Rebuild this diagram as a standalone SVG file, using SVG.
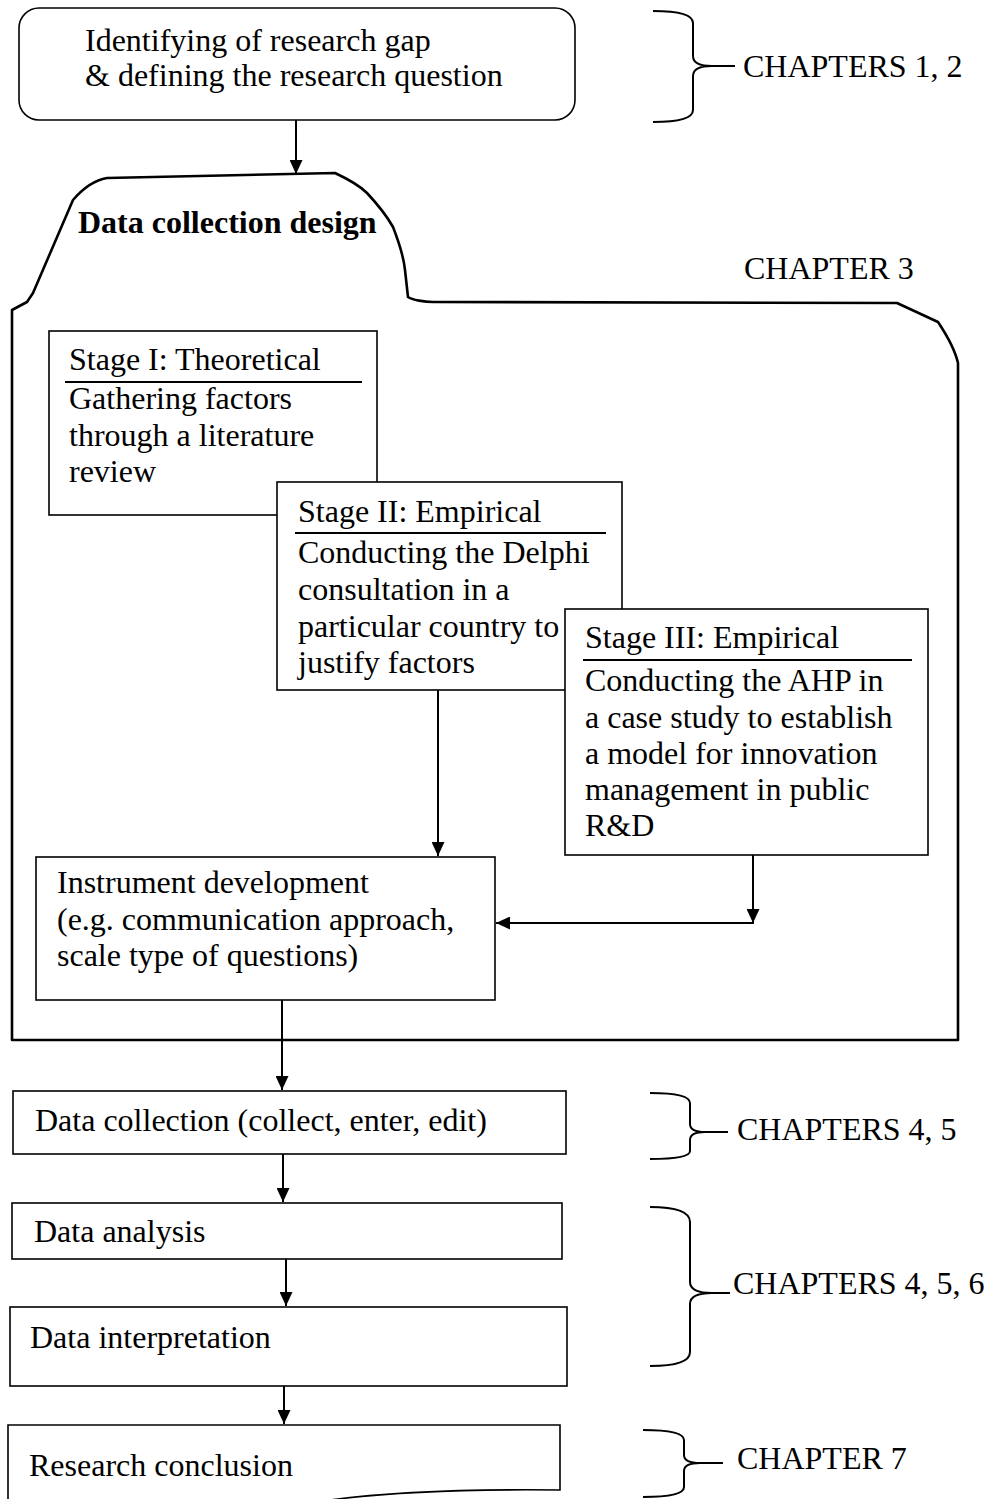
<svg xmlns="http://www.w3.org/2000/svg" width="990" height="1499" viewBox="0 0 990 1499">
  <style>
    .t { font-family: "Liberation Serif", "Times New Roman", serif; font-size: 32px; fill: #000; }
    .b { font-weight: bold; }
    .box { fill: #fff; stroke: #000; stroke-width: 1.6; }
    .frame { fill: none; stroke: #000; stroke-width: 2.6; stroke-linejoin: round; }
    .rule { stroke: #000; stroke-width: 2; }
    .brace { fill: none; stroke: #000; stroke-width: 2; }
    .conn { fill: none; stroke: #000; stroke-width: 2; }
  </style>
  <defs>
    <marker id="arrow" markerUnits="userSpaceOnUse" markerWidth="14" markerHeight="13" refX="14" refY="6.5" orient="auto">
      <path d="M0,0 L14,6.5 L0,13 Z" fill="#000"/>
    </marker>
  </defs>
  <rect width="990" height="1499" fill="#fff"/>

  <!-- research gap -->
  <g id="node-research-gap">
    <rect class="box" x="19" y="8" width="556" height="112" rx="20" ry="20"/>
    <text class="t" x="85" y="51">Identifying of research gap</text>
    <text class="t" x="85" y="86">&amp; defining the research question</text>
  </g>

  <!-- data collection design frame -->
  <g id="node-design-frame">
    <path class="frame" d="M12,1040 V310 L27,302 L33,293 L73,200 C85,186 95,180 107,178 L335,173 C350,180 360,186 367,193 C380,207 388,218 393,227 C400,245 404,260 405,270 L408,297 C412,300 425,302 433,302 L897,303 L938,322 C948,337 955,350 958,363 V1040 Z"/>
    <text class="t b" x="78" y="233">Data collection design</text>
  </g>

  <g id="node-stage1">
    <rect class="box" x="49" y="331" width="328" height="184"/>
    <text class="t" x="69" y="370">Stage I: Theoretical</text>
    <line class="rule" x1="65" y1="382" x2="362" y2="382"/>
    <text class="t" x="69" y="409">Gathering factors</text>
    <text class="t" x="69" y="446">through a literature</text>
    <text class="t" x="69" y="482">review</text>
  </g>

  <g id="node-stage2">
    <rect class="box" x="277" y="482" width="345" height="208"/>
    <text class="t" x="298" y="522">Stage II: Empirical</text>
    <line class="rule" x1="295" y1="533" x2="606" y2="533"/>
    <text class="t" x="298" y="563">Conducting the Delphi</text>
    <text class="t" x="298" y="600">consultation in a</text>
    <text class="t" x="298" y="637">particular country to</text>
    <text class="t" x="298" y="673">justify factors</text>
  </g>

  <g id="node-stage3">
    <rect class="box" x="565" y="609" width="363" height="246"/>
    <text class="t" x="585" y="648">Stage III: Empirical</text>
    <line class="rule" x1="583" y1="660" x2="912" y2="660"/>
    <text class="t" x="585" y="691">Conducting the AHP in</text>
    <text class="t" x="585" y="728">a case study to establish</text>
    <text class="t" x="585" y="764">a model for innovation</text>
    <text class="t" x="585" y="800">management in public</text>
    <text class="t" x="585" y="836">R&amp;D</text>
  </g>

  <g id="node-instrument">
    <rect class="box" x="36" y="857" width="459" height="143"/>
    <text class="t" x="57" y="893">Instrument development</text>
    <text class="t" x="57" y="930">(e.g. communication approach,</text>
    <text class="t" x="57" y="966">scale type of questions)</text>
  </g>

  <g id="node-data-collection">
    <rect class="box" x="13" y="1091" width="553" height="63"/>
    <text class="t" x="35" y="1131">Data collection (collect, enter, edit)</text>
  </g>

  <g id="node-data-analysis">
    <rect class="box" x="12" y="1203" width="550" height="56"/>
    <text class="t" x="34" y="1242">Data analysis</text>
  </g>

  <g id="node-data-interpretation">
    <rect class="box" x="10" y="1307" width="557" height="79"/>
    <text class="t" x="30" y="1348">Data interpretation</text>
  </g>

  <g id="node-conclusion">
    <path class="box" d="M8,1510 V1425 H560 V1490 C470,1489 390,1492 330,1500 L320,1510 Z"/>
    <text class="t" x="29" y="1476">Research conclusion</text>
  </g>

  <!-- chapter braces -->
  <g id="node-chapters-1-2">
    <path class="brace" d="M653,11 Q693,11 693,23 V56 Q693,66 712,66 Q693,66 693,76 V110 Q693,122 653,122 M712,66 H735"/>
    <text class="t" x="743" y="77">CHAPTERS 1, 2</text>
  </g>
  <g id="node-chapter-3">
    <text class="t" x="744" y="279">CHAPTER 3</text>
  </g>
  <g id="node-chapters-4-5">
    <path class="brace" d="M650,1093 Q690,1093 690,1103 V1124 Q690,1132 705,1132 Q690,1132 690,1140 V1151 Q690,1159 650,1159 M705,1132 H728"/>
    <text class="t" x="737" y="1140">CHAPTERS 4, 5</text>
  </g>
  <g id="node-chapters-4-5-6">
    <path class="brace" d="M650,1207 Q690,1207 690,1222 V1282 Q690,1293 712,1293 Q690,1293 690,1304 V1352 Q690,1366 650,1366 M712,1293 H730"/>
    <text class="t" x="733" y="1294">CHAPTERS 4, 5, 6</text>
  </g>
  <g id="node-chapter-7">
    <path class="brace" d="M643,1430 Q684,1430 684,1440 V1455 Q684,1463 700,1463 Q684,1463 684,1471 V1487 Q684,1497 643,1497 M700,1463 H723"/>
    <text class="t" x="737" y="1469">CHAPTER 7</text>
  </g>

  <!-- connectors -->
  <g id="connectors">
    <line class="conn" x1="296" y1="120" x2="296" y2="174" marker-end="url(#arrow)"/>
    <line class="conn" x1="438" y1="690" x2="438" y2="856" marker-end="url(#arrow)"/>
    <line class="conn" x1="753" y1="855" x2="753" y2="923" marker-end="url(#arrow)"/>
    <line class="conn" x1="754" y1="923" x2="496" y2="923" marker-end="url(#arrow)"/>
    <line class="conn" x1="282" y1="1000" x2="282" y2="1090" marker-end="url(#arrow)"/>
    <line class="conn" x1="283" y1="1154" x2="283" y2="1202" marker-end="url(#arrow)"/>
    <line class="conn" x1="286" y1="1259" x2="286" y2="1306" marker-end="url(#arrow)"/>
    <line class="conn" x1="284" y1="1386" x2="284" y2="1424" marker-end="url(#arrow)"/>
  </g>
</svg>
